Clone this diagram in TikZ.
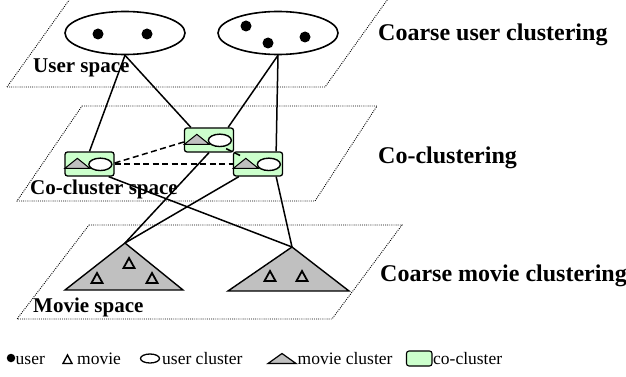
\documentclass[tikz,border=0pt]{standalone}
\usepackage{fontspec}
\setmainfont{Liberation Serif}
\usetikzlibrary{shapes.geometric,calc}
\definecolor{cogreen}{HTML}{CCFFCC}
\definecolor{movgray}{HTML}{C0C0C0}
\newcommand\cocontent[1]{%
  \draw[fill=movgray,line width=1pt] ($(#1.north west)+(0.5,17)$) -- ++(12.5,-10) -- ++(12.5,10) -- cycle;
  \draw[fill=white,line width=1.4pt] ($(#1.north west)+(36,13)$) ellipse [x radius=11.5, y radius=6.2];}
\begin{document}
\begin{tikzpicture}[x=1pt,y=-1pt,
  plane/.style={line width=0.9pt, dash pattern=on 0.9pt off 1.2pt},
  ucl/.style={ellipse, draw, line width=1.6pt, minimum width=120pt, minimum height=43pt, inner sep=0pt},
  udot/.style={circle, fill=black, minimum size=11pt, inner sep=0pt},
  cobox/.style={draw, fill=cogreen, rounded corners=2.5pt, line width=1.3pt, minimum width=49pt, minimum height=24pt, inner sep=0pt},
  link/.style={line width=1.5pt},
  colink/.style={line width=1.5pt, dash pattern=on 6pt off 3.5pt},
  bigtri/.style={draw, fill=movgray, line width=1.4pt},
  smalltri/.style={draw, line width=1.8pt},
  mtri/.pic={\draw[smalltri] (-5.5,5) -- (5.5,5) -- (0,-5) -- cycle;},
  lab/.style={font=\fontsize{21}{25}\selectfont\bfseries, anchor=base west, inner sep=0pt},
  biglab/.style={font=\fontsize{24}{28}\selectfont\bfseries, anchor=base west, inner sep=0pt},
  leg/.style={font=\fontsize{17.5}{21}\selectfont, anchor=base west, inner sep=0pt}
]
\useasboundingbox (0,0) rectangle (626,377);

% planes
\draw[plane] (7,87) -- (325,87) -- (390,-4) -- (72,-4) -- cycle;
\draw[plane] (82,106) -- (377,106) -- (315,201) -- (17,201) -- cycle;
\draw[plane] (89,225) -- (402,225) -- (332,319) -- (17,319) -- cycle;

% user clusters
\node[ucl] (u1) at (125,33) {};
\node[ucl] (u2) at (278,33) {};
\node[udot] (d1) at (98,34) {};
\node[udot] (d2) at (147,34) {};
\node[udot] (d3) at (246,26) {};
\node[udot] (d4) at (268,43) {};
\node[udot] (d5) at (305,37) {};

% movie clusters
\coordinate (m1) at (125,243);
\coordinate (m2) at (292,247);
\draw[bigtri] (65,290) -- (183,290) -- (m1) -- cycle;
\draw[bigtri] (228,291) -- (349,291) -- (m2) -- cycle;
\pic at (129,263) {mtri};
\pic at (97,278) {mtri};
\pic at (152,278) {mtri};
\pic at (270,276) {mtri};
\pic at (302,276) {mtri};

% co-clusters
\node[cobox] (A) at (89.5,164) {};
\node[cobox] (B) at (209,140) {};
\node[cobox] (C) at (258,164) {};
\cocontent{A}
\cocontent{B}
\cocontent{C}

% links user -> co
\draw[link] (u1.south) -- (A.north);
\draw[link] (u1.south) -- ($(B.north west)+(7,0)$);
\draw[link] (u2.south) -- ($(B.north east)+(-6,0)$);
\draw[link] (u2.south) -- ($(C.north east)+(-7,0)$);

% links co -> movie
\draw[link] ($(A.south east)+(-6,0)$) -- (m2);
\draw[link] (B.south) -- (m1);
\draw[link] ($(C.south west)+(6,0)$) -- (m1);
\draw[link] ($(C.south east)+(-7,0)$) -- (m2);

% co-cluster relations
\draw[colink] (A.east) -- (C.west);
\draw[colink] ($(A.east)+(0,-1)$) -- ($(B.west)+(0,2)$);
\draw[colink] ($(B.south east)+(-8,-4)$) -- ($(C.north west)+(9,5)$);

% labels
\node[lab] (ls) at (33,73) {User space};
\node[lab] (lc) at (30,194) {Co-cluster space};
\node[lab] (lm) at (33,312) {Movie space};
\node[biglab] (r1) at (378,41) {Coarse user clustering};
\node[biglab] (r2) at (378,163) {Co-clustering};
\node[biglab] (r3) at (380,281) {Coarse movie clustering};

% legend
\node[circle, fill=black, minimum size=8.5pt, inner sep=0pt] (k1) at (11,358) {};
\node[leg] (t1) at (15.5,364) {user};
\draw[line width=1.4pt] (63,363.5) -- (72,363.5) -- (67.5,355) -- cycle;
\node[leg] (t2) at (77,364) {movie};
\draw[line width=1.3pt] (150,358.5) ellipse [x radius=9.5, y radius=4.5];
\node[leg] (t3) at (162,364) {user cluster};
\draw[fill=movgray, line width=1.2pt] (268,363.5) -- (296,363.5) -- (282,353.5) -- cycle;
\node[leg] (t4) at (297.5,364) {movie cluster};
\draw[fill=cogreen, line width=1.1pt, rounded corners=2.5pt] (406.5,351) rectangle (432,366);
\node[leg] (t5) at (433,364) {co-cluster};
\end{tikzpicture}
\end{document}
